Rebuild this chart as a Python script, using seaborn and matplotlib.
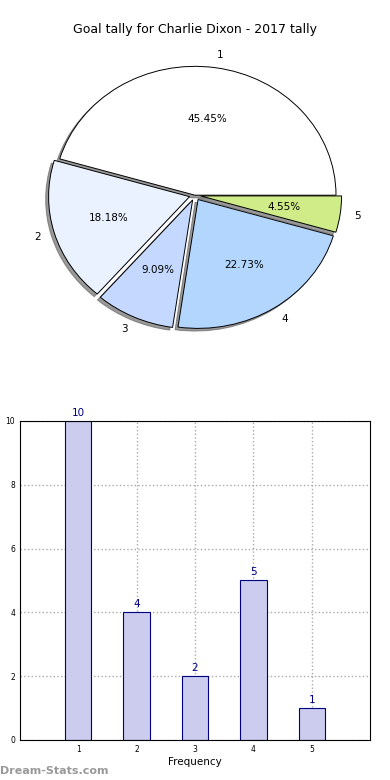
import numpy as np
import pandas as pd
import matplotlib
matplotlib.use('Agg')
import matplotlib.pyplot as plt
import seaborn as sns

# 数据
goals = [1, 2, 3, 4, 5]
tally = [10, 4, 2, 5, 1]
pie_labels = ['1', '2', '3', '4', '5']
pie_colors = ['#ffffff', '#eaf1ff', '#c5d8ff', '#b3d6ff', '#cfec88']

sns.set_style('white')
plt.rcParams['font.family'] = ['DejaVu Sans']
plt.rcParams['text.color'] = 'black'
plt.rcParams['axes.labelcolor'] = 'black'
plt.rcParams['xtick.color'] = 'black'
plt.rcParams['ytick.color'] = 'black'

fig = plt.figure(figsize=(3.9, 7.8), dpi=100)

# 饼图
ax1 = fig.add_axes([0.030, 0.535, 0.940, 0.4295])
ax1.pie(tally, labels=pie_labels, colors=pie_colors, autopct='%.2f%%',
        startangle=0, explode=[0, 0.04, 0.04, 0.04, 0.04],
        shadow={'ox': -0.015, 'oy': -0.015, 'color': '#555555', 'alpha': 0.6},
        wedgeprops={'edgecolor': 'black', 'linewidth': 0.7},
        textprops={'fontsize': 7.5, 'color': 'black'})
ax1.set_aspect('auto')
ax1.set_xlim(-1.3, 1.3)
ax1.set_ylim(-1.3, 1.3)
fig.text(0.5, 0.962, 'Goal tally for Charlie Dixon - 2017 tally', ha='center', va='center', fontsize=9)

# 柱状图
df = pd.DataFrame({'goals': goals, 'tally': tally})
ax2 = fig.add_axes([0.051, 0.0513, 0.898, 0.409])
sns.barplot(data=df, x='goals', y='tally', native_scale=True, width=0.45,
            color='#ccccee', saturation=1, edgecolor='#000080', linewidth=0.8, ax=ax2)
ax2.set_xlim(0, 6)
ax2.set_ylim(0, 10)
ax2.set_xticks(goals)
ax2.set_yticks([0, 2, 4, 6, 8, 10])
ax2.tick_params(labelsize=5.5, length=2, pad=1.5)
ax2.grid(True, linestyle=':', color='#aaaaaa', linewidth=1)
ax2.set_axisbelow(True)
for s in ax2.spines.values():
    s.set_color('black')
    s.set_linewidth(0.8)
for g, t in zip(goals, tally):
    ax2.text(g, t + 0.1, str(t), ha='center', va='bottom', color='#000080', fontsize=7.5)
ax2.set_xlabel('Frequency', fontsize=7.5, labelpad=2)
ax2.set_ylabel('Goal Tally', fontsize=7.5, labelpad=6)

fig.text(0.0, 0.012, 'Dream-Stats.com', color='#999999', fontsize=8, fontweight='bold', ha='left', va='center')

plt.savefig('out.png', dpi=100)
